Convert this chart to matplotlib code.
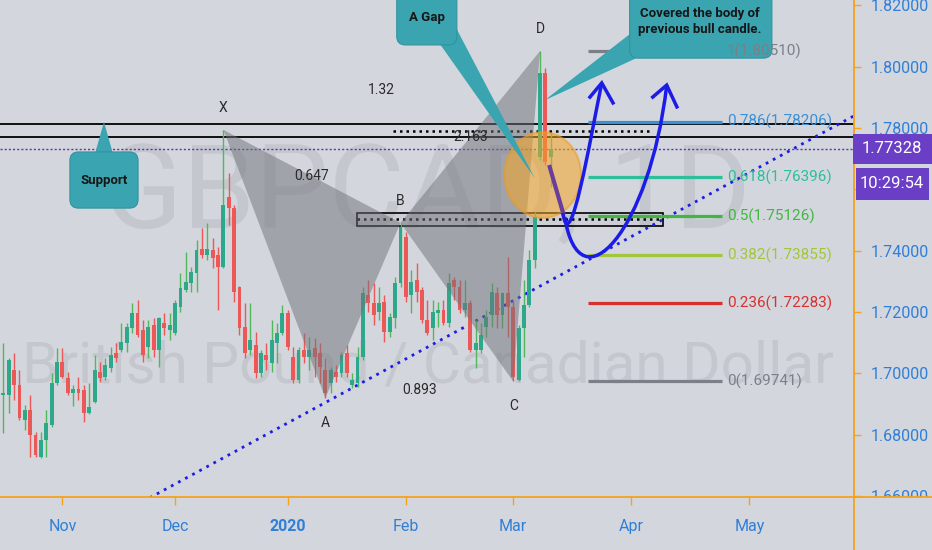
import numpy as np
import pandas as pd
import matplotlib
matplotlib.use("Agg")
import matplotlib.pyplot as plt
import matplotlib.transforms as mtransforms
from matplotlib.patches import Polygon, Ellipse, FancyBboxPatch, Rectangle, PathPatch
from matplotlib.path import Path
from matplotlib.lines import Line2D

plt.rcParams['font.family'] = ['Roboto', 'DejaVu Sans']

# ---- data (GBPCAD daily) ----
first_bar = '2019-10-17'
opens = [1.6930, 1.6930, 1.7011, 1.6962, 1.6848, 1.6881, 1.6799, 1.6728, 1.6783, 1.6832,
         1.6969, 1.7037, 1.6985, 1.6936, 1.6949, 1.6946, 1.6871, 1.6907, 1.7005, 1.6989,
         1.7018, 1.7067, 1.7077, 1.7099, 1.7148, 1.7197, 1.7142, 1.7086, 1.7158, 1.7077,
         1.7165, 1.7142, 1.7132, 1.7217, 1.7272, 1.7295, 1.7328, 1.7406, 1.7386, 1.7402,
         1.7386, 1.7347, 1.7575, 1.7539, 1.7282, 1.7152, 1.7077, 1.7093, 1.7002, 1.7060,
         1.7034, 1.7099, 1.7132, 1.7197, 1.7054, 1.6979, 1.7077, 1.7054, 1.7083, 1.7067,
         1.7011, 1.6969, 1.7005, 1.7002, 1.7067, 1.6962, 1.6969, 1.7054, 1.7256, 1.7230,
         1.7200, 1.7233, 1.7135, 1.7181, 1.7295, 1.7445, 1.7256, 1.7305, 1.7272, 1.7174,
         1.7148, 1.7197, 1.7207, 1.7165, 1.7305, 1.7282, 1.7207, 1.7230, 1.7077, 1.7077,
         1.7152, 1.7191, 1.7262, 1.7191, 1.7262, 1.7217, 1.6979, 1.7148, 1.7223, 1.7370,
         1.7706, 1.7980, 1.7706]
highs = [1.7099, 1.7050, 1.7067, 1.7011, 1.6897, 1.6930, 1.6809, 1.6809, 1.6881, 1.7002,
         1.7083, 1.7083, 1.7005, 1.6962, 1.6989, 1.6962, 1.6969, 1.7060, 1.7037, 1.7050,
         1.7086, 1.7099, 1.7165, 1.7165, 1.7230, 1.7239, 1.7174, 1.7174, 1.7181, 1.7184,
         1.7197, 1.7197, 1.7239, 1.7328, 1.7396, 1.7347, 1.7435, 1.7474, 1.7491, 1.7442,
         1.7412, 1.7794, 1.7654, 1.7549, 1.7285, 1.7230, 1.7230, 1.7135, 1.7077, 1.7099,
         1.7174, 1.7165, 1.7223, 1.7207, 1.7086, 1.7086, 1.7132, 1.7119, 1.7116, 1.7099,
         1.7050, 1.7021, 1.7028, 1.7070, 1.7093, 1.7002, 1.7086, 1.7282, 1.7305, 1.7295,
         1.7282, 1.7256, 1.7197, 1.7315, 1.7491, 1.7461, 1.7337, 1.7360, 1.7282, 1.7239,
         1.7239, 1.7233, 1.7239, 1.7328, 1.7315, 1.7305, 1.7305, 1.7239, 1.7174, 1.7165,
         1.7207, 1.7295, 1.7282, 1.7266, 1.7380, 1.7239, 1.7158, 1.7305, 1.7402, 1.7526,
         1.8051, 1.7996, 1.7784]
lows = [1.6806, 1.6871, 1.6913, 1.6848, 1.6816, 1.6728, 1.6728, 1.6724, 1.6728, 1.6825,
        1.6962, 1.6985, 1.6930, 1.6894, 1.6913, 1.6842, 1.6868, 1.6904, 1.6972, 1.6979,
        1.7005, 1.7037, 1.7070, 1.7070, 1.7132, 1.7119, 1.7037, 1.7050, 1.7054, 1.7021,
        1.7125, 1.7109, 1.7125, 1.7200, 1.7266, 1.7266, 1.7266, 1.7376, 1.7370, 1.7344,
        1.7207, 1.7344, 1.7484, 1.7233, 1.7125, 1.7050, 1.7060, 1.6985, 1.6989, 1.7011,
        1.7005, 1.7034, 1.7125, 1.7077, 1.6969, 1.6969, 1.7034, 1.7011, 1.6989, 1.6969,
        1.6920, 1.6936, 1.6972, 1.6989, 1.6989, 1.6953, 1.6956, 1.7044, 1.7200, 1.7158,
        1.7174, 1.7103, 1.7119, 1.7148, 1.7282, 1.7233, 1.7197, 1.7233, 1.7165, 1.7125,
        1.7109, 1.7152, 1.7158, 1.7152, 1.7239, 1.7197, 1.7184, 1.7070, 1.7018, 1.7067,
        1.7119, 1.7152, 1.7148, 1.7148, 1.7119, 1.6974, 1.6976, 1.7054, 1.7217, 1.7344,
        1.7696, 1.7680, 1.7608]
closes = [1.6936, 1.7044, 1.6962, 1.6855, 1.6881, 1.6799, 1.6734, 1.6783, 1.6838, 1.6969,
          1.7037, 1.6989, 1.6936, 1.6949, 1.6936, 1.6871, 1.6891, 1.7011, 1.6985, 1.7028,
          1.7060, 1.7050, 1.7103, 1.7152, 1.7197, 1.7125, 1.7060, 1.7152, 1.7077, 1.7181,
          1.7148, 1.7158, 1.7230, 1.7279, 1.7298, 1.7331, 1.7402, 1.7386, 1.7406, 1.7376,
          1.7347, 1.7549, 1.7539, 1.7266, 1.7148, 1.7067, 1.7109, 1.7002, 1.7067, 1.7044,
          1.7109, 1.7132, 1.7197, 1.7086, 1.6979, 1.7077, 1.7054, 1.7077, 1.7054, 1.7021,
          1.6936, 1.7011, 1.6989, 1.7060, 1.7002, 1.6979, 1.7054, 1.7262, 1.7230, 1.7191,
          1.7230, 1.7135, 1.7184, 1.7295, 1.7477, 1.7249, 1.7298, 1.7266, 1.7174, 1.7132,
          1.7200, 1.7207, 1.7165, 1.7295, 1.7282, 1.7207, 1.7230, 1.7077, 1.7099, 1.7125,
          1.7184, 1.7266, 1.7191, 1.7262, 1.7217, 1.6989, 1.7148, 1.7223, 1.7370, 1.7510,
          1.7980, 1.7690, 1.7733]

month_ticks = ['2019-11-01', '2019-12-02', '2020-01-02', '2020-02-03',
               '2020-03-02', '2020-04-01', '2020-05-01']
month_labels = ['Nov', 'Dec', '2020', 'Feb', 'Mar', 'Apr', 'May']

price_ticks = [1.66, 1.68, 1.70, 1.72, 1.74, 1.76, 1.78, 1.80, 1.82]

pattern_names = ['X', 'A', 'B', 'C', 'D']
pattern_dates = ['2019-12-13', '2020-01-13', '2020-01-31', '2020-03-02', '2020-03-09']
pattern_kinds = ['high', 'low', 'high', 'low', 'high']
ratio_pairs = [('X', 'B'), ('X', 'D'), ('A', 'C'), ('B', 'D')]
ratio_labels = ['0.647', '1.32', '0.893', '2.163']

fib_ratios = ['0', '0.236', '0.382', '0.5', '0.618', '0.786', '1']
fib_prices = [1.69741, 1.72283, 1.73855, 1.75126, 1.76396, 1.78206, 1.80510]
fib_colors = ['#7c7f87', '#d8302f', '#a2c63a', '#3fb83f', '#2cbf9a', '#3a8fd6', '#7c7f87']

resistance_lines = [1.7813, 1.7771]
last_price = 1.77328
countdown = '10:29:54'

# ---- colours ----
bg = '#d3d6dd'
orange = '#f5a21d'
axis_blue = '#2f7fd8'
up_body, up_wick = '#2ea88b', '#4fb85a'
dn_body, dn_wick = '#ec5856', '#ec5856'
teal = '#3aa4b0'
blue = '#1c1ce6'

# trading days (holidays without a bar removed)
days = pd.bdate_range('2019-10-14', '2020-06-30')
days = days[~days.isin(pd.to_datetime(['2019-12-25', '2020-01-01']))]
start = days.get_loc(pd.Timestamp(first_bar))

o = np.array(opens)
h = np.array(highs)
l = np.array(lows)
c = np.array(closes)
xs = np.arange(start, start + len(o))
up = c >= o

fig = plt.figure(figsize=(9.32, 5.5), dpi=100)
fig.patch.set_facecolor(bg)
ax = fig.add_axes([0, 53 / 550, 854 / 932, 497 / 550])
ax.set_facecolor(bg)
ax.set_xlim(2.375, 161.5)
ax.set_ylim(1.65970, 1.82175)

# watermark
ax.text(0.5, 0.541, 'GBPCAD, 1D', transform=ax.transAxes, ha='center', va='baseline',
        fontsize=84, color='#c4c7ce', zorder=0.5)
ax.text(0.501, 0.231, 'British Pound / Canadian Dollar', transform=ax.transAxes,
        ha='center', va='baseline', fontsize=42, color='#c4c7ce', zorder=0.5)

# horizontal levels
for lv in resistance_lines:
    ax.axhline(lv, color='black', lw=1.3, zorder=1)
ax.axhline(last_price, color='#5e35b1', lw=1, linestyle=(0, (1.5, 1.5)), zorder=1)
ax.plot([75.6, 123.8], [1.7789, 1.7789], color='black', lw=1.8,
        linestyle=(0, (1, 1.6)), zorder=1.2)
ax.add_patch(Rectangle((68.9, 1.7481), 57.0, 0.0042, fc=(0.5, 0.5, 0.5, 0.08),
                       ec='black', lw=1.2, zorder=1.1))
ax.plot([68.9, 125.9], [1.7502, 1.7502], color='black', lw=1.8,
        linestyle=(0, (1, 1.6)), zorder=1.2)

# trend line
ax.plot([25, 165], [1.6905 - 38 * 0.000949, 1.6905 + 102 * 0.000949], color=blue,
        lw=2, linestyle=(0, (1, 1.9)), zorder=2)

# candles
ax.vlines(xs, l, h, colors=np.where(up, up_wick, dn_wick), lw=1, zorder=3)
ax.bar(xs, np.maximum(np.abs(c - o), 0.0003), bottom=np.minimum(o, c), width=0.72,
       color=np.where(up, up_body, dn_body), zorder=3.1)

# XABCD pattern
pts = {}
for name, d, kind in zip(pattern_names, pattern_dates, pattern_kinds):
    i = days.get_loc(pd.Timestamp(d))
    pts[name] = (i, h[i - start] if kind == 'high' else l[i - start])

for tri in (('X', 'A', 'B'), ('B', 'C', 'D')):
    ax.add_patch(Polygon([pts[t] for t in tri], closed=True, fc='#6f7278', ec='none',
                         alpha=0.5, zorder=4))

for name, kind in zip(pattern_names, pattern_kinds):
    dy = 16 if kind == 'high' else -18
    ax.annotate(name, pts[name], xytext=(0, dy), textcoords='offset points',
                ha='center', va='center', fontsize=10, color='#2a2a2a', zorder=9)
for (a, b), txt in zip(ratio_pairs, ratio_labels):
    mx = (pts[a][0] + pts[b][0]) / 2
    my = (pts[a][1] + pts[b][1]) / 2
    ax.text(mx, my, txt, ha='center', va='center', fontsize=10, color='#2a2a2a', zorder=9)

# fibonacci retracement
for r, p, col in zip(fib_ratios, fib_prices, fib_colors):
    ax.plot([111.9, 136.9], [p, p], color=col, lw=2.3, zorder=5, solid_capstyle='butt')
    ax.text(137.8, p, f'{r}({p:.5f})', color=col, fontsize=11, va='center', ha='left',
            zorder=9.5)

# orange circle around the gap candles
ax.add_patch(Ellipse((103.5, 1.7647), 14.3, 0.0280, fc='#f5a623', ec='#f09a1c',
                     lw=1.5, alpha=0.55, zorder=6))

# hand drawn projection
ax.plot([104.8, 107.3], [1.7673, 1.7523], color='#6a3d9a', lw=3, zorder=7)
curves = [
    [(107.25, 1.7523), (108.6, 1.7370), (112.3, 1.7761), (114.5, 1.7947)],
    [(107.6, 1.7510), (110.4, 1.7207), (123.5, 1.7468), (126.6, 1.7940)],
]
for verts in curves:
    path = Path(verts, [Path.MOVETO, Path.CURVE4, Path.CURVE4, Path.CURVE4])
    ax.add_patch(PathPatch(path, fill=False, ec=blue, lw=2.5, zorder=7))
heads = [
    [(112.3, 1.7901), (114.5, 1.7947), (116.6, 1.7882)],
    [(124.0, 1.7901), (126.6, 1.7940), (128.5, 1.7869)],
]
for hd in heads:
    ax.plot([q[0] for q in hd], [q[1] for q in hd], color=blue, lw=2.5, zorder=7,
            solid_joinstyle='miter')

# callouts
aspect = 0.00175


def callout(x0, y0, x1, y1, pointer, text, tx, ty):
    ax.add_patch(Polygon(pointer, closed=True, fc=teal, ec='none', zorder=8))
    ax.add_patch(FancyBboxPatch((x0, y0), x1 - x0, y1 - y0,
                                boxstyle='round,pad=0,rounding_size=1.6',
                                mutation_aspect=aspect, fc=teal, ec='#31939e',
                                lw=0.8, zorder=8))
    ax.text(tx, ty, text, ha='center', va='center', fontsize=9.5, fontweight='bold',
            color='#161616', linespacing=1.3, zorder=8.5)


callout(15.4, 1.7539, 28.1, 1.7722,
        [(20.1, 1.7718), (23.4, 1.7718), (21.75, 1.7820)],
        'Support', 21.75, 1.7630)
callout(76.3, 1.8071, 87.5, 1.8260,
        [(84.3, 1.8075), (87.4, 1.8125), (102.0, 1.7637)],
        'A Gap', 81.9, 1.8159)
callout(119.7, 1.8028, 146.2, 1.8260,
        [(120.0, 1.8110), (121.6, 1.8033), (103.9, 1.7891)],
        'Covered the body of\nprevious bull candle.', 132.8, 1.8149)

# axes styling
for s in ax.spines.values():
    s.set_visible(False)
ax.yaxis.tick_right()
ax.set_yticks(price_ticks)
ax.set_yticklabels([f'{v:.5f}' for v in price_ticks])
ax.tick_params(axis='y', color=orange, labelcolor=axis_blue, length=5, width=1,
               pad=7, labelsize=11.5)
ax.set_xticks([days.get_loc(pd.Timestamp(d)) for d in month_ticks])
ax.set_xticklabels(month_labels)
ax.tick_params(axis='x', color=orange, labelcolor=axis_blue, length=6, width=1,
               pad=10, labelsize=11.5)
for lab in ax.get_xticklabels():
    if lab.get_text() == '2020':
        lab.set_fontweight('bold')

# the price scale is clipped to the chart pane, like the reference
pane = mtransforms.TransformedBbox(mtransforms.Bbox([[0, 53 / 550], [1, 1]]),
                                   fig.transFigure)
for lab in ax.get_yticklabels():
    lab.set_clip_box(pane)
    lab.set_clip_on(True)

fig.add_artist(Line2D([854 / 932, 854 / 932], [0, 1], color=orange, lw=1.3,
                      transform=fig.transFigure))
fig.add_artist(Line2D([0, 1], [53 / 550, 53 / 550], color=orange, lw=1.3,
                      transform=fig.transFigure))

# last price / countdown badges
trans = mtransforms.blended_transform_factory(fig.transFigure, ax.transData)
fig.add_artist(Rectangle((853 / 932, last_price - 0.0049), 79 / 932, 0.0098,
                         transform=trans, fc='#6a3fc6', ec='none', zorder=5))
fig.text(892 / 932, last_price, f'{last_price:.5f}', transform=trans, ha='center',
         va='center', color='white', fontsize=12, zorder=6)
fig.add_artist(Rectangle((856 / 932, last_price - 0.0166), 73 / 932, 0.0104,
                         transform=trans, fc='#6a3fc6', ec='none', zorder=5))
fig.text(892 / 932, last_price - 0.0114, countdown, transform=trans, ha='center',
         va='center', color='white', fontsize=12, zorder=6)

fig.savefig('out.png', dpi=100, facecolor=bg)
